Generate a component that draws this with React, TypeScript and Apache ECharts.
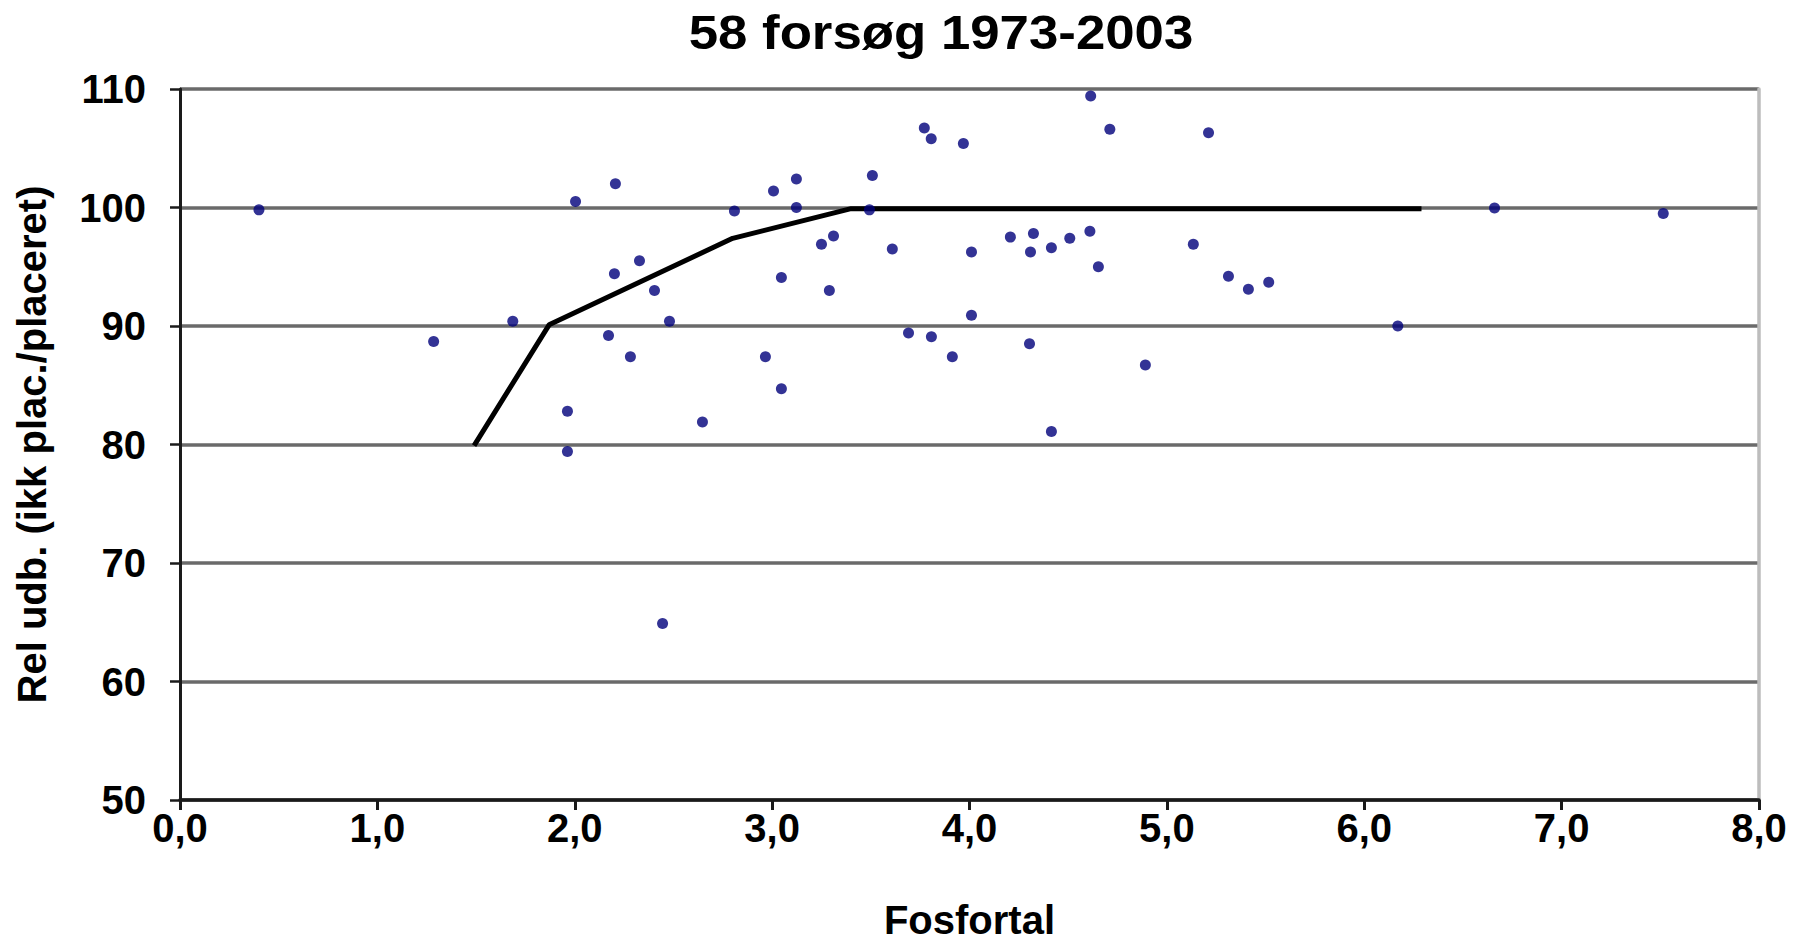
import React, { useEffect, useRef } from "react";
import * as echarts from "echarts";

const titleText = "58 forsøg 1973-2003";
const xAxisName = "Fosfortal";
const yAxisName = "Rel udb. (ikk plac./placeret)";

const fosfortal: number[] = [
  0.40, 1.285, 1.686, 1.963, 1.963, 2.004, 2.171, 2.206, 2.201, 2.282,
  2.328, 2.404, 2.445, 2.480, 2.647, 2.809, 2.966, 3.007, 3.047, 3.047,
  3.123, 3.123, 3.250, 3.311, 3.290, 3.508, 3.493, 3.609, 3.691, 3.771,
  3.806, 3.807, 3.913, 3.969, 4.010, 4.010, 4.207, 4.304, 4.309, 4.324,
  4.415, 4.415, 4.508, 4.614, 4.610, 4.653, 4.711, 4.891, 5.134, 5.211,
  5.312, 5.413, 5.516, 6.170, 6.66, 7.515,
];
const relUdb: number[] = [
  99.8, 88.7, 90.4, 82.8, 79.4, 100.5, 89.2, 102.0, 94.4, 87.4,
  95.5, 93.0, 64.9, 90.4, 81.9, 99.7, 87.4, 101.4, 94.1, 84.7,
  102.4, 100.0, 96.9, 97.6, 93.0, 102.7, 99.8, 96.5, 89.4, 106.7,
  105.8, 89.1, 87.4, 105.4, 96.25, 90.9, 97.5, 88.5, 96.25, 97.8,
  96.6, 81.1, 97.4, 109.4, 98.0, 95.0, 106.6, 86.7, 96.9, 106.3,
  94.2, 93.1, 93.7, 90.0, 99.95, 99.5,
];

const curveX: number[] = [1.49, 1.87, 2.8, 3.4, 6.29];
const curveY: number[] = [79.9, 90.1, 97.4, 99.9, 99.9];

const yTicks: number[] = [50, 60, 70, 80, 90, 100, 110];
const xTicks: number[] = [0, 1, 2, 3, 4, 5, 6, 7, 8];

const FONT = '"Liberation Sans", Arial, sans-serif';

export default function App() {
  const ref = useRef<HTMLDivElement>(null);

  useEffect(() => {
    if (!ref.current) return;
    const chart = echarts.init(ref.current, null, { renderer: "svg" });
    const points = fosfortal.map((x, i) => [x, relUdb[i]]);
    const curve = curveX.map((x, i) => [x, curveY[i]]);
    const yMin = yTicks[0];
    const yMax = yTicks[yTicks.length - 1];
    const xMin = xTicks[0];
    const xMax = xTicks[xTicks.length - 1];

    chart.setOption({
      animation: false,
      backgroundColor: "#ffffff",
      graphic: [
        {
          type: "text",
          x: 941,
          y: 32,
          scaleX: 1.1,
          style: {
            text: titleText,
            font: `bold 48px ${FONT}`,
            fill: "#000000",
            textAlign: "center",
            textVerticalAlign: "middle",
          },
        },
      ],
      grid: { left: 180, right: 34, top: 89, bottom: 147, containLabel: false },
      xAxis: {
        type: "value",
        min: xMin,
        max: xMax,
        interval: 1,
        name: xAxisName,
        nameLocation: "middle",
        nameGap: 100,
        nameTextStyle: { fontFamily: FONT, fontWeight: "bold", fontSize: 40, color: "#000" },
        axisLine: { show: true, onZero: false, lineStyle: { color: "#1a1a1a", width: 3.5 } },
        axisTick: { show: true, length: 10, lineStyle: { color: "#1a1a1a", width: 3 } },
        axisLabel: {
          margin: 8,
          fontFamily: FONT,
          fontWeight: "bold",
          fontSize: 40,
          color: "#000",
          formatter: (v: number) => v.toFixed(1).replace(".", ","),
        },
        splitLine: { show: false },
      },
      yAxis: [
        {
          type: "value",
          min: yMin,
          max: yMax,
          interval: 10,
          name: yAxisName,
          nameLocation: "middle",
          nameGap: 128,
          nameTextStyle: { fontFamily: FONT, fontWeight: "bold", fontSize: 40, color: "#000" },
          axisLine: { show: true, lineStyle: { color: "#1a1a1a", width: 3 } },
          axisTick: { show: true, length: 10, lineStyle: { color: "#1a1a1a", width: 2.5 } },
          axisLabel: {
            margin: 34,
            fontFamily: FONT,
            fontWeight: "bold",
            fontSize: 40,
            color: "#000",
          },
          splitLine: { show: true, lineStyle: { color: "#6a6a6a", width: 3.5 } },
        },
        {
          type: "value",
          min: yMin,
          max: yMax,
          interval: 10,
          position: "right",
          axisLine: { show: true, lineStyle: { color: "#bdbdbd", width: 3.5 } },
          axisTick: { show: false },
          axisLabel: { show: false },
          splitLine: { show: false },
        },
      ],
      series: [
        {
          type: "line",
          data: curve,
          yAxisIndex: 0,
          showSymbol: false,
          symbol: "none",
          lineStyle: { color: "#000000", width: 5 },
          z: 3,
        },
        {
          type: "scatter",
          data: points,
          yAxisIndex: 0,
          symbol: "circle",
          symbolSize: 11,
          itemStyle: { color: "#00007a" },
          z: 4,
        },
      ],
    });
    return () => chart.dispose();
  }, []);

  return (
    <div
      ref={ref}
      style={{ position: "fixed", left: 0, top: 0, width: 1793, height: 947, background: "#fff" }}
    />
  );
}
